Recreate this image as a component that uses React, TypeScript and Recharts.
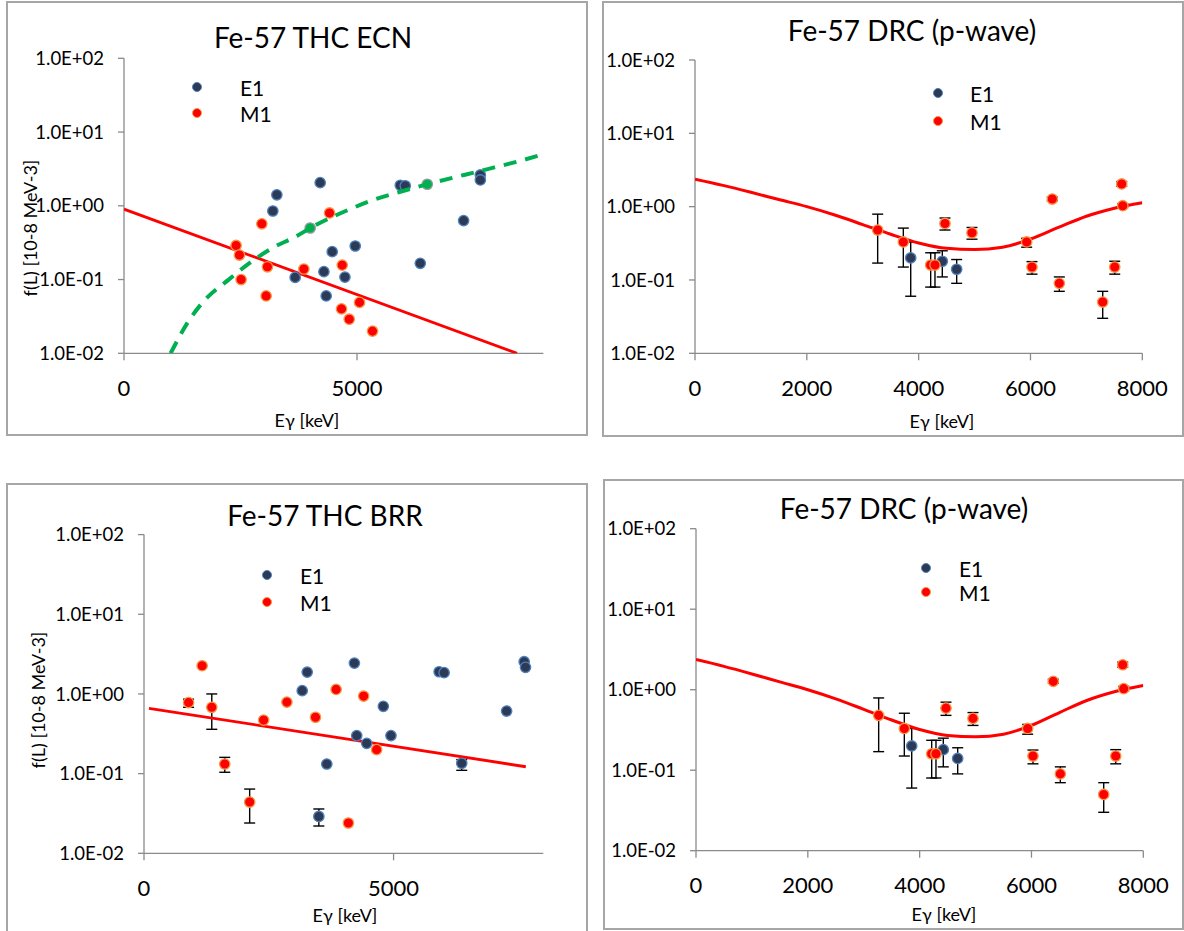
import React from 'react';
import { ScatterChart, Scatter, XAxis, YAxis, ErrorBar, Legend } from 'recharts';

const FONT = 'Lato, "Open Sans", sans-serif';

// ---- Fe-57 THC ECN ----
const ECN_E1_E = [3194, 3280, 3673, 4210, 4290, 4339, 4468, 4741, 4962, 5929, 6036, 6358, 7288, 7647, 7647];
const ECN_E1_F = [0.85, 1.41, 0.107, 2.06, 0.128, 0.06, 0.239, 0.108, 0.285, 1.9, 1.87, 0.166, 0.63, 2.62, 2.24];
const ECN_M1_E = [2406, 2477, 2513, 2958, 3050, 3078, 3860, 4410, 4668, 4683, 4833, 5054, 5333];
const ECN_M1_F = [0.29, 0.215, 0.1, 0.57, 0.06, 0.149, 0.139, 0.8, 0.04, 0.157, 0.029, 0.049, 0.02];
const ECN_GREY_E = [3995, 6508];
const ECN_GREY_F = [0.5, 1.96];
const ECN_FIT_E = [0, 8434];
const ECN_FIT_F = [0.9, 0.01];
const ECN_GDR_E = [1000, 1380, 1700, 2240, 2670, 3170, 3710, 4000, 4850, 5350, 5930, 6510, 7720, 8430, 9000];
const ECN_GDR_F = [0.01, 0.027, 0.05, 0.099, 0.163, 0.265, 0.39, 0.5, 0.9, 1.2, 1.55, 1.96, 3.05, 3.96, 5.0];

// ---- Fe-57 THC BRR ----
const BRR_E1_E = [3170, 3270, 3503, 3662, 4215, 4262, 4462, 4795, 4948, 5913, 6013, 6366, 7265, 7617, 7644];
const BRR_E1_F = [1.1, 1.88, 0.029, 0.132, 2.44, 0.3, 0.24, 0.7, 0.3, 1.9, 1.85, 0.135, 0.61, 2.54, 2.16];
const BRR_E1_LO = [null, null, 0.022, null, null, null, null, null, null, null, null, 0.11, null, null, null];
const BRR_E1_HI = [null, null, 0.036, null, null, null, null, null, null, null, null, 0.15, null, null, null];
const BRR_M1_E = [893, 1165, 1358, 1618, 2117, 2397, 2863, 3436, 3849, 4095, 4401, 4661];
const BRR_M1_F = [0.78, 2.26, 0.68, 0.132, 0.044, 0.47, 0.79, 0.51, 1.14, 0.024, 0.94, 0.2];
const BRR_M1_LO = [0.68, null, 0.36, 0.104, 0.024, null, null, null, null, null, null, null];
const BRR_M1_HI = [0.86, null, 1.0, 0.16, 0.064, null, null, null, null, null, null, null];
const BRR_FIT_E = [100, 7650];
const BRR_FIT_F = [0.66, 0.122];

// ---- Fe-57 DRC (p-wave) ----
const DRC_E1_E = [3858, 4423, 4680];
const DRC_E1_F = [0.2, 0.18, 0.14];
const DRC_E1_LO = [0.06, 0.11, 0.09];
const DRC_E1_HI = [0.33, 0.25, 0.19];
const DRC_M1_E = [3267, 3726, 4215, 4292, 4471, 4954, 5932, 6027, 6390, 6516, 7292, 7507, 7632, 7650];
const DRC_M1_F = [0.48, 0.33, 0.16, 0.16, 0.59, 0.44, 0.33, 0.15, 1.27, 0.09, 0.05, 0.15, 2.04, 1.03];
const DRC_M1_LO = [0.17, 0.15, 0.08, 0.08, 0.48, 0.36, 0.28, 0.12, 1.2, 0.07, 0.03, 0.12, 1.9, 0.97];
const DRC_M1_HI = [0.79, 0.51, 0.235, 0.235, 0.7, 0.52, 0.37, 0.178, 1.35, 0.11, 0.07, 0.18, 2.2, 1.1];
const DRC_FIT_E = [0, 500, 1000, 1500, 2000, 2500, 3000, 3500, 4000, 4500, 5000, 5500, 6000, 6500, 7000, 7500, 8000];
const DRC_FIT_F = [2.37, 1.95, 1.57, 1.25, 1.0, 0.77, 0.57, 0.42, 0.32, 0.27, 0.26, 0.28, 0.36, 0.52, 0.74, 0.95, 1.13];

const Y_TICKS = [0.01, 0.1, 1, 10, 100];
const X_TICKS_5K = [0, 5000];
const X_TICKS_2K = [0, 2000, 4000, 6000, 8000];
const LEGEND_ITEMS = [
  { name: 'E1', fill: '#2c3a55', stroke: '#4f81bd' },
  { name: 'M1', fill: '#ff0000', stroke: '#f79646' },
];

type Pt = { x: number; y: number; err: [number, number] | null };

function toPoints(e: number[], f: number[], lo?: (number | null)[], hi?: (number | null)[]): Pt[] {
  return e.map((x, i) => {
    const l = lo ? lo[i] : null;
    const h = hi ? hi[i] : null;
    return { x, y: f[i], err: l != null && h != null ? [f[i] - l, h - f[i]] : null };
  });
}

const sci = (v: number) => {
  const e = Math.round(Math.log10(v));
  return `1.0E${e < 0 ? '-' : '+'}${String(Math.abs(e)).padStart(2, '0')}`;
};

const dot = (fill: string, stroke: string) => (p: any) =>
  <circle cx={p.cx} cy={p.cy} r={5.2} fill={fill} stroke={stroke} strokeWidth={1.3} />;
const blueDot = dot('#2c3a55', '#4f81bd');
const redDot = dot('#ff0000', '#f79646');
const greyDot = dot('#00b050', '#9a9a9a');
const noDot = () => <g />;

const ecnE1 = toPoints(ECN_E1_E, ECN_E1_F);
const ecnM1 = toPoints(ECN_M1_E, ECN_M1_F);
const ecnGrey = toPoints(ECN_GREY_E, ECN_GREY_F);
const ecnFit = toPoints(ECN_FIT_E, ECN_FIT_F);
const ecnGdr = toPoints(ECN_GDR_E, ECN_GDR_F);
const brrE1 = toPoints(BRR_E1_E, BRR_E1_F, BRR_E1_LO, BRR_E1_HI);
const brrM1 = toPoints(BRR_M1_E, BRR_M1_F, BRR_M1_LO, BRR_M1_HI);
const brrFit = toPoints(BRR_FIT_E, BRR_FIT_F);
const drcE1 = toPoints(DRC_E1_E, DRC_E1_F, DRC_E1_LO, DRC_E1_HI);
const drcM1 = toPoints(DRC_M1_E, DRC_M1_F, DRC_M1_LO, DRC_M1_HI);
const drcFit = toPoints(DRC_FIT_E, DRC_FIT_F);

type Box = { l: number; t: number; r: number; b: number };
type Plot = { x0: number; x1: number; y0: number; y1: number };
type At = { x: number; y: number };

interface PanelProps {
  box: Box;
  plot: Plot;
  xMax: number;
  xTicks: number[];
  title: string;
  titleAt: At;
  xTitleAt: At;
  yTitleAt?: At;
  legendDot: At;
  legendTextX: number;
  legendRow: number;
  children: React.ReactNode;
}

const centered = (at: At, size: number, extra: React.CSSProperties = {}): React.CSSProperties => ({
  position: 'absolute',
  left: at.x,
  top: at.y,
  transform: 'translate(-50%, -50%)',
  fontSize: size,
  lineHeight: 1,
  whiteSpace: 'nowrap',
  color: '#000',
  ...extra,
});

function Panel({ box, plot, xMax, xTicks, title, titleAt, xTitleAt, yTitleAt, legendDot, legendTextX, legendRow, children }: PanelProps) {
  const W = box.r - box.l;
  const H = box.b - box.t;
  const margin = {
    left: plot.x0 - box.l - 1,
    top: plot.y0 - box.t,
    right: box.r - plot.x1,
    bottom: box.b - plot.y1 - 1,
  };
  const legendContent = () => (
    <div style={{ position: 'relative', width: 90, height: legendRow * 2, fontFamily: FONT, fontSize: 21 }}>
      {LEGEND_ITEMS.map((it, i) => (
        <div
          key={it.name}
          style={{ position: 'absolute', left: 0, top: i * legendRow, height: legendRow, display: 'flex', alignItems: 'center' }}
        >
          <span
            style={{
              width: 10.4,
              height: 10.4,
              borderRadius: '50%',
              background: it.fill,
              border: `1.3px solid ${it.stroke}`,
              boxSizing: 'border-box',
              display: 'inline-block',
            }}
          />
          <span style={{ marginLeft: legendTextX - legendDot.x - 5.2, lineHeight: 1, color: '#000' }}>{it.name}</span>
        </div>
      ))}
    </div>
  );

  return (
    <>
      <div
        style={{
          position: 'absolute',
          left: box.l,
          top: box.t,
          width: W,
          height: H,
          border: '2px solid #a6a6a6',
          boxSizing: 'border-box',
        }}
      />
      <div style={{ position: 'absolute', left: box.l, top: box.t, width: W, height: H }}>
        <ScatterChart width={W} height={H} margin={margin}>
          <XAxis
            type="number"
            dataKey="x"
            domain={[0, xMax]}
            ticks={xTicks}
            height={1}
            tickSize={7}
            tickMargin={20}
            axisLine={{ stroke: '#8a8a8a', strokeWidth: 1.3 }}
            tickLine={{ stroke: '#8a8a8a', strokeWidth: 1.3 }}
            tick={{ fontSize: 22, fill: '#000', fontFamily: FONT }}
            allowDataOverflow
          />
          <YAxis
            type="number"
            dataKey="y"
            scale="log"
            domain={[0.01, 100]}
            ticks={Y_TICKS}
            width={1}
            tickSize={6}
            tickMargin={14}
            tickFormatter={sci}
            axisLine={{ stroke: '#8a8a8a', strokeWidth: 1.3 }}
            tickLine={{ stroke: '#8a8a8a', strokeWidth: 1.3 }}
            tick={{ fontSize: 18.5, fill: '#000', fontFamily: FONT }}
            allowDataOverflow
          />
          <Legend
            layout="vertical"
            align="center"
            verticalAlign="middle"
            wrapperStyle={{ left: legendDot.x - 5.2 - box.l, top: legendDot.y - legendRow / 2 - box.t, width: 90 }}
            content={legendContent}
          />
          {children}
        </ScatterChart>
      </div>
      <div style={centered(titleAt, 28)}>{title}</div>
      <div style={centered(xTitleAt, 18)}>Eγ [keV]</div>
      {yTitleAt && (
        <div style={centered(yTitleAt, 18, { transform: 'translate(-50%, -50%) rotate(-90deg)' })}>
          f(L) [10-8 MeV-3]
        </div>
      )}
    </>
  );
}

const errBar = (
  <ErrorBar dataKey="err" direction="y" width={5.5} stroke="#000" strokeWidth={1.4} isAnimationActive={false} />
);

function drcSeries() {
  return [
    <Scatter key="fit" data={drcFit} shape={noDot} line={{ stroke: '#ff0000', strokeWidth: 3 }} lineJointType="monotoneX" legendType="none" isAnimationActive={false} />,
    <Scatter key="e1" name="E1" data={drcE1} shape={blueDot} isAnimationActive={false}>
      {errBar}
    </Scatter>,
    <Scatter key="m1" name="M1" data={drcM1} shape={redDot} isAnimationActive={false}>
      {errBar}
    </Scatter>,
  ];
}

export default function App() {
  return (
    <div
      style={{
        position: 'absolute',
        left: 0,
        top: 0,
        width: 1184,
        height: 931,
        overflow: 'hidden',
        background: '#fff',
        fontFamily: FONT,
      }}
    >
      <Panel
        box={{ l: 6, t: 1, r: 588, b: 436 }}
        plot={{ x0: 124, x1: 543.4, y0: 58.3, y1: 353.3 }}
        xMax={9000}
        xTicks={X_TICKS_5K}
        title="Fe-57 THC ECN"
        titleAt={{ x: 313, y: 37 }}
        xTitleAt={{ x: 307, y: 420 }}
        yTitleAt={{ x: 30, y: 228 }}
        legendDot={{ x: 197, y: 87 }}
        legendTextX={240}
        legendRow={26}
      >
        <Scatter data={ecnFit} shape={noDot} line={{ stroke: '#ff0000', strokeWidth: 2.8 }} legendType="none" isAnimationActive={false} />
        <Scatter name="E1" data={ecnE1} shape={blueDot} isAnimationActive={false} />
        <Scatter name="M1" data={ecnM1} shape={redDot} isAnimationActive={false} />
        <Scatter data={ecnGrey} shape={greyDot} legendType="none" isAnimationActive={false} />
        <Scatter
          data={ecnGdr}
          shape={noDot}
          line={{ stroke: '#00b050', strokeWidth: 4, strokeDasharray: '13 9' }}
          lineJointType="monotoneX"
          legendType="none"
          isAnimationActive={false}
        />
      </Panel>

      <Panel
        box={{ l: 602, t: 1, r: 1184, b: 437 }}
        plot={{ x0: 695, x1: 1142.3, y0: 60, y1: 353.3 }}
        xMax={8000}
        xTicks={X_TICKS_2K}
        title="Fe-57 DRC (p-wave)"
        titleAt={{ x: 912, y: 30 }}
        xTitleAt={{ x: 942, y: 421 }}
        legendDot={{ x: 938, y: 93 }}
        legendTextX={970}
        legendRow={28}
      >
        {drcSeries()}
      </Panel>

      <Panel
        box={{ l: 6, t: 483, r: 588, b: 945 }}
        plot={{ x0: 144, x1: 543.3, y0: 534.6, y1: 853.3 }}
        xMax={8000}
        xTicks={X_TICKS_5K}
        title="Fe-57 THC BRR"
        titleAt={{ x: 325, y: 515 }}
        xTitleAt={{ x: 345, y: 915 }}
        yTitleAt={{ x: 38, y: 700 }}
        legendDot={{ x: 267, y: 575 }}
        legendTextX={300}
        legendRow={27}
      >
        <Scatter data={brrFit} shape={noDot} line={{ stroke: '#ff0000', strokeWidth: 2.8 }} legendType="none" isAnimationActive={false} />
        <Scatter name="E1" data={brrE1} shape={blueDot} isAnimationActive={false}>
          {errBar}
        </Scatter>
        <Scatter name="M1" data={brrM1} shape={redDot} isAnimationActive={false}>
          {errBar}
        </Scatter>
      </Panel>

      <Panel
        box={{ l: 603, t: 479, r: 1184, b: 930 }}
        plot={{ x0: 696, x1: 1143.3, y0: 528.7, y1: 850.7 }}
        xMax={8000}
        xTicks={X_TICKS_2K}
        title="Fe-57 DRC (p-wave)"
        titleAt={{ x: 904, y: 508 }}
        xTitleAt={{ x: 944, y: 914 }}
        legendDot={{ x: 926, y: 568 }}
        legendTextX={959}
        legendRow={24}
      >
        {drcSeries()}
      </Panel>
    </div>
  );
}
